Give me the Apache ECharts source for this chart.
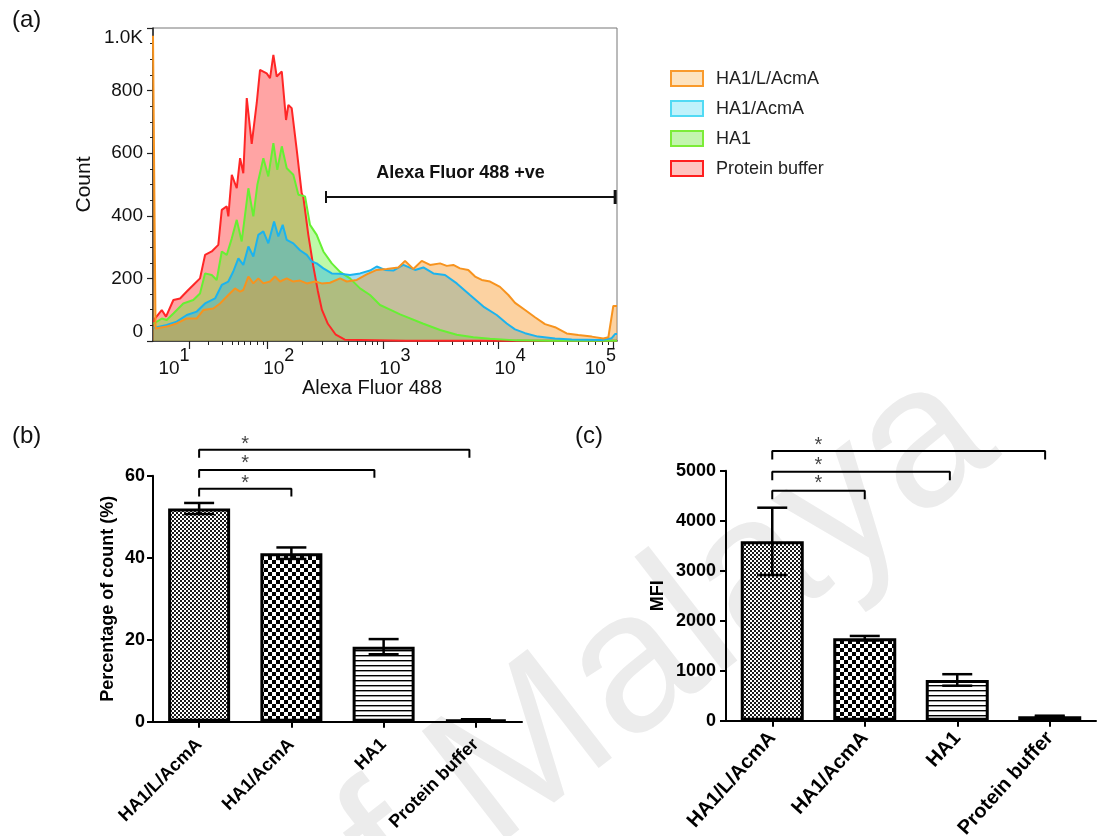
<!DOCTYPE html>
<html>
<head>
<meta charset="utf-8">
<title>HA1 binding - flow cytometry</title>
<script src="https://cdn.jsdelivr.net/npm/echarts@6.0.0/dist/echarts.min.js"></script>
<style>
  html, body { margin: 0; padding: 0; background: #fff; }
  #main { width: 1100px; height: 836px; }
</style>
</head>
<body>
<div id="main"></div>
<script>
var FONT = '"Liberation Sans", Arial, Helvetica, sans-serif';

// groups (legend order, bar order)
var groups = ['HA1/L/AcmA', 'HA1/AcmA', 'HA1', 'Protein buffer'];

// (a) histogram: x = display position in decades (10^x, logicle-compressed low end), y = count
var histHA1LAcmA = [[1.004,975],[1.016,975],[1.026,40],[1.039,40],[1.123,46],[1.210,56],[1.297,72],[1.384,72],[1.441,99],[1.528,104],[1.586,120],[1.658,147],[1.716,168],[1.760,158],[1.788,163],[1.832,206],[1.875,184],[1.918,200],[1.962,184],[2.020,190],[2.063,206],[2.107,190],[2.165,200],[2.222,190],[2.280,193],[2.339,184],[2.411,190],[2.469,184],[2.541,186],[2.628,200],[2.686,190],[2.773,195],[2.859,213],[2.946,227],[3.033,230],[3.134,235],[3.192,256],[3.264,230],[3.337,256],[3.409,243],[3.496,248],[3.554,240],[3.611,243],[3.669,232],[3.741,227],[3.800,206],[3.858,195],[3.930,190],[4.016,173],[4.089,147],[4.147,122],[4.234,99],[4.320,76],[4.407,54],[4.494,44],[4.595,24],[4.696,19],[4.813,14],[4.913,8],[4.957,12],[5.000,112],[5.032,112]];
var histHA1AcmA = [[1.010,42],[1.022,46],[1.123,51],[1.210,62],[1.297,83],[1.384,94],[1.456,120],[1.543,136],[1.601,179],[1.658,190],[1.701,222],[1.745,264],[1.788,243],[1.832,302],[1.875,270],[1.918,339],[1.962,350],[2.005,312],[2.055,382],[2.092,334],[2.130,371],[2.165,323],[2.222,312],[2.280,290],[2.339,275],[2.382,254],[2.425,248],[2.483,232],[2.556,216],[2.628,215],[2.714,211],[2.801,216],[2.888,225],[2.946,238],[3.018,227],[3.090,225],[3.177,243],[3.279,227],[3.351,235],[3.438,216],[3.539,211],[3.641,184],[3.756,147],[3.872,110],[3.988,83],[4.075,56],[4.147,37],[4.234,25],[4.346,14],[4.494,8],[4.639,5],[4.899,3],[4.986,9],[5.015,22],[5.032,22]];
var histHA1 = [[1.010,55],[1.022,61],[1.080,72],[1.123,67],[1.181,88],[1.267,120],[1.354,131],[1.412,152],[1.456,216],[1.514,211],[1.557,195],[1.601,286],[1.644,275],[1.688,328],[1.731,387],[1.774,318],[1.832,488],[1.875,398],[1.910,499],[1.962,584],[2.005,526],[2.049,632],[2.083,547],[2.122,622],[2.165,552],[2.222,531],[2.266,467],[2.324,462],[2.367,371],[2.425,339],[2.483,286],[2.556,248],[2.628,221],[2.714,200],[2.801,168],[2.888,147],[2.975,115],[3.062,100],[3.149,85],[3.351,55],[3.496,35],[3.641,20],[3.785,12],[3.930,7],[4.161,2],[4.451,1],[5.032,1]];
var histBuffer = [[1.010,60],[1.022,72],[1.080,99],[1.117,78],[1.181,131],[1.239,136],[1.297,158],[1.354,179],[1.412,200],[1.456,275],[1.514,286],[1.571,307],[1.601,419],[1.644,430],[1.658,398],[1.688,531],[1.731,488],[1.760,584],[1.788,536],[1.818,776],[1.861,630],[1.905,762],[1.933,866],[1.991,855],[2.020,840],[2.049,914],[2.078,845],[2.122,861],[2.159,706],[2.179,754],[2.208,744],[2.252,610],[2.295,472],[2.309,460],[2.352,340],[2.395,240],[2.435,160],[2.470,100],[2.522,55],[2.591,20],[2.669,4],[3.200,1],[5.032,1]];

// (a) axis ticks
var majorTickAt = [1.317, 2, 3, 4, 5];
var majorTickExp = ['1', '2', '3', '4', '5'];
var lowDecadeTickAt = [1.484, 1.601, 1.688, 1.745, 1.797, 1.846, 1.905, 1.962];

// (a) positive gate
var gateRange = [2.506, 5.016];
var gateCount = 460;

// (b) percentage of count, mean and SEM
var pctMean = [52.0, 41.1, 18.3, 0.5];
var pctSem = [1.35, 1.4, 1.85, 0.1];
// (c) MFI, mean and SEM
var mfiMean = [3587, 1650, 815, 90];
var mfiSem = [673, 45, 115, 10];

// significance brackets (category index from -> to, bracket height)
var sigFrom = [0, 0, 0];
var pctSigTo = [1, 1.9, 2.93];
var pctSigTop = [56.8, 61.4, 66.3];
var pctStarY = [58.1, 62.9, 67.5];
var mfiSigTo = [1, 1.92, 2.95];
var mfiSigTop = [4600, 4980, 5394];
var mfiStarY = [4735, 5100, 5500];

var lineColors = ['#f7931e', '#1cb3ee', '#66f033', '#ff2626'];
var legendFill = ['#fde3bf', '#c0f2fb', '#c3f5ae', '#ffc4c0'];
var legendEdge = ['#f99a2c', '#52daf4', '#7cec38', '#ff1f1f'];

function makePattern(kind) {
  var c = document.createElement('canvas');
  var g = c.getContext('2d');
  if (kind === 'fine') {
    c.width = 4; c.height = 4;
    g.fillStyle = '#fff'; g.fillRect(0, 0, 4, 4);
    g.fillStyle = '#1a1a1a'; g.fillRect(0, 0, 2, 2); g.fillRect(2, 2, 2, 2);
  } else if (kind === 'check') {
    c.width = 8; c.height = 8;
    g.fillStyle = '#fff'; g.fillRect(0, 0, 8, 8);
    g.fillStyle = '#000'; g.fillRect(0, 0, 4, 4); g.fillRect(4, 4, 4, 4);
  } else if (kind === 'stripe') {
    c.width = 4; c.height = 5;
    g.fillStyle = '#fff'; g.fillRect(0, 0, 4, 5);
    g.fillStyle = '#000'; g.fillRect(0, 0, 4, 1.4);
  } else {
    c.width = 6; c.height = 3;
    g.fillStyle = '#fff'; g.fillRect(0, 0, 6, 3);
    g.fillStyle = '#000'; g.fillRect(0, 1, 3, 1);
  }
  return { image: c, repeat: 'repeat' };
}
var barPatterns = [makePattern('fine'), makePattern('check'), makePattern('stripe'), makePattern('dash')];

// minor ticks on the fluorescence axis
var minorTickAt = lowDecadeTickAt.slice();
[2, 3, 4].forEach(function (d) {
  for (var k = 2; k <= 9; k++) minorTickAt.push(d + Math.log10(k));
});

// label nudges (px) for 10^n labels, as in the FlowJo export
var xLabelShift = [-15, 11, 12, 12, -13];
var tickRich = {};
majorTickAt.forEach(function (v, i) {
  var s = xLabelShift[i];
  tickRich['b' + i] = { fontSize: 19, color: '#111', fontFamily: FONT, padding: [0, 0, 0, s > 0 ? 2 * s : 0] };
  tickRich['s' + i] = { fontSize: 18, color: '#111', fontFamily: FONT, padding: [0, s < 0 ? -2 * s : 0, 26, 0] };
});

function histSeries(name, data, i) {
  return {
    name: name, type: 'line', xAxisIndex: 0, yAxisIndex: 0,
    data: data, showSymbol: false, symbol: 'none', smooth: false, silent: true,
    lineStyle: { color: lineColors[i], width: 2 },
    itemStyle: { color: lineColors[i] },
    areaStyle: { color: lineColors[i], opacity: 0.42 }
  };
}

function barSeries(xi, yi, mean, w) {
  return {
    type: 'bar', xAxisIndex: xi, yAxisIndex: yi, barWidth: w, silent: true, z: 3,
    data: mean.map(function (v, i) { return { value: v, itemStyle: { color: barPatterns[i] } }; }),
    itemStyle: { borderColor: '#000', borderWidth: 3 }
  };
}

function errorSeries(xi, yi, mean, sem) {
  return {
    type: 'custom', xAxisIndex: xi, yAxisIndex: yi, z: 5, silent: true,
    encode: { x: 0, y: [1, 2] },
    data: mean.map(function (m, i) { return [i, m - sem[i], m + sem[i]]; }),
    renderItem: function (params, api) {
      var hi = api.coord([api.value(0), api.value(2)]);
      var lo = api.coord([api.value(0), api.value(1)]);
      var st = { stroke: '#000', lineWidth: 2.5 };
      return { type: 'group', children: [
        { type: 'line', shape: { x1: hi[0], y1: hi[1], x2: lo[0], y2: lo[1] }, style: st },
        { type: 'line', shape: { x1: hi[0] - 15, y1: hi[1], x2: hi[0] + 15, y2: hi[1] }, style: st },
        { type: 'line', shape: { x1: lo[0] - 15, y1: lo[1], x2: lo[0] + 15, y2: lo[1] }, style: st }
      ] };
    }
  };
}

function bracketSeries(xi, yi, to, top, drop, starY) {
  var out = sigFrom.map(function (f, i) {
    return {
      type: 'line', xAxisIndex: xi, yAxisIndex: yi, clip: false, symbol: 'none', silent: true,
      lineStyle: { color: '#000', width: 2 },
      data: [[f, top[i] - drop], [f, top[i]], [to[i], top[i]], [to[i], top[i] - drop]]
    };
  });
  out.push({
    type: 'scatter', xAxisIndex: xi, yAxisIndex: yi, clip: false, symbolSize: 1, silent: true,
    itemStyle: { color: 'rgba(0,0,0,0)' },
    data: starY.map(function (y) { return [0.5, y]; }),
    label: { show: true, position: 'inside', formatter: '*', fontSize: 20, color: '#111', fontFamily: FONT }
  });
  return out;
}

var boldAxisY = function (gi, max, step, name, gap, margin) {
  return {
    gridIndex: gi, type: 'value', min: 0, max: max, interval: step,
    axisLine: { show: true, onZero: false, lineStyle: { color: '#000', width: 2 } },
    axisTick: { show: true, length: 6, lineStyle: { color: '#000', width: 2 } },
    axisLabel: { fontSize: 18, fontWeight: 'bold', color: '#000', fontFamily: FONT, margin: margin,
      formatter: function (v) { return String(v); } },
    splitLine: { show: false },
    name: name, nameLocation: 'middle', nameGap: gap, nameMoveOverlap: false,
    nameTextStyle: { fontSize: 18, fontWeight: 'bold', color: '#000', fontFamily: FONT }
  };
};
var catAxisX = function (gi, margin, size, rot) {
  return {
    gridIndex: gi, type: 'category', data: groups,
    axisLine: { show: true, onZero: false, lineStyle: { color: '#000', width: 2 } },
    axisTick: { show: true, alignWithLabel: true, length: 6, lineStyle: { color: '#000', width: 2 } },
    axisLabel: { interval: 0, rotate: rot, fontSize: size, fontWeight: 'bold', color: '#000', fontFamily: FONT,
      margin: margin, padding: [31, 0, 0, 0] },
    splitLine: { show: false }
  };
};
var hiddenX = function (gi) {
  return { gridIndex: gi, type: 'value', min: -0.5, max: 3.5, show: false,
    axisLine: { onZero: false } };
};

var graphics = [
  { type: 'text', z: 0, x: 1030, y: 490, rotation: 0.66,
    style: { text: 'University of Malaya', font: '200px ' + FONT, fill: '#ececec', align: 'right', verticalAlign: 'bottom' } },
  { type: 'text', x: 12, y: 8, style: { text: '(a)', font: '24px ' + FONT, fill: '#111' } },
  { type: 'text', x: 12, y: 424, style: { text: '(b)', font: '24px ' + FONT, fill: '#111' } },
  { type: 'text', x: 575, y: 424, style: { text: '(c)', font: '24px ' + FONT, fill: '#111' } }
];
groups.forEach(function (g, i) {
  graphics.push({ type: 'rect', shape: { x: 671, y: 71 + 30 * i, width: 32, height: 15 },
    style: { fill: legendFill[i], stroke: legendEdge[i], lineWidth: 2 } });
  graphics.push({ type: 'text', x: 716, y: 79 + 30 * i,
    style: { text: g, font: '18px ' + FONT, fill: '#222', align: 'left', verticalAlign: 'middle' } });
});

var option = {
  backgroundColor: '#fff',
  animation: false,
  textStyle: { fontFamily: FONT },
  graphic: graphics,
  grid: [
    { left: 153, top: 28, width: 464, height: 313, show: true, borderColor: '#777', borderWidth: 1, containLabel: false, outerBoundsMode: 'none' },
    { left: 153, top: 475.7, width: 369, height: 246, containLabel: false, outerBoundsMode: 'none' },
    { left: 726, top: 470.7, width: 370, height: 250, containLabel: false, outerBoundsMode: 'none' }
  ],
  xAxis: [
    { gridIndex: 0, type: 'value', min: 1.004, max: 5.032, position: 'bottom',
      axisLine: { show: true, onZero: false, lineStyle: { color: '#222', width: 1.5 } },
      axisTick: { show: true, customValues: minorTickAt, length: 4, lineStyle: { color: '#222', width: 1 } },
      axisLabel: { show: false }, splitLine: { show: false } },
    { gridIndex: 0, type: 'value', min: 1.004, max: 5.032, position: 'bottom',
      axisLine: { show: false, onZero: false },
      axisTick: { show: true, customValues: majorTickAt, length: 8, lineStyle: { color: '#222', width: 1.2 } },
      axisLabel: { show: true, customValues: majorTickAt, margin: 6, rich: tickRich,
        formatter: function (v) {
          var i = 0;
          majorTickAt.forEach(function (t, j) { if (Math.abs(t - v) < 1e-6) i = j; });
          return '{b' + i + '|10}{s' + i + '|' + majorTickExp[i] + '}';
        } },
      splitLine: { show: false },
      name: 'Alexa Fluor 488', nameLocation: 'middle', nameGap: 37, nameMoveOverlap: false,
      nameTextStyle: { fontSize: 20, color: '#111', fontFamily: FONT, padding: [0, 26, 0, 0] } },
    catAxisX(1, 20, 18, 45),
    hiddenX(1),
    catAxisX(2, 14, 20, 48),
    hiddenX(2)
  ],
  yAxis: [
    { gridIndex: 0, type: 'value', min: 0, max: 1000, interval: 200,
      axisLine: { show: true, onZero: false, lineStyle: { color: '#222', width: 1.5 } },
      axisTick: { show: true, length: 6, lineStyle: { color: '#222', width: 1.2 } },
      minorTick: { show: true, splitNumber: 4, length: 3, lineStyle: { color: '#222', width: 1 } },
      axisLabel: { fontSize: 19, color: '#111', fontFamily: FONT, margin: 10,
        showMinLabel: true, showMaxLabel: true,
        verticalAlignMaxLabel: 'top', verticalAlignMinLabel: 'bottom',
        formatter: function (v) { return v === 1000 ? '1.0K' : String(v); } },
      splitLine: { show: false }, minorSplitLine: { show: false },
      name: 'Count', nameLocation: 'middle', nameGap: 58, nameMoveOverlap: false,
      nameTextStyle: { fontSize: 21, color: '#111', fontFamily: FONT } },
    boldAxisY(1, 60, 20, 'Percentage of count (%)', 36, 8),
    boldAxisY(2, 5000, 1000, 'MFI', 59, 10)
  ],
  series: [
    histSeries(groups[3], histBuffer, 3),
    histSeries(groups[2], histHA1, 2),
    histSeries(groups[1], histHA1AcmA, 1),
    histSeries(groups[0], histHA1LAcmA, 0),
    {
      type: 'custom', xAxisIndex: 0, yAxisIndex: 0, z: 10, silent: true,
      encode: { x: [0, 1], y: 2 },
      data: [[gateRange[0], gateRange[1], gateCount]],
      renderItem: function (params, api) {
        var a = api.coord([api.value(0), api.value(2)]);
        var b = api.coord([api.value(1), api.value(2)]);
        var st = { stroke: '#111', lineWidth: 2 };
        return { type: 'group', children: [
          { type: 'line', shape: { x1: a[0], y1: a[1], x2: b[0], y2: b[1] }, style: st },
          { type: 'line', shape: { x1: a[0], y1: a[1] - 6, x2: a[0], y2: a[1] + 6 }, style: st },
          { type: 'line', shape: { x1: b[0], y1: b[1] - 7, x2: b[0], y2: b[1] + 7 }, style: { stroke: '#111', lineWidth: 3 } },
          { type: 'text', x: (a[0] + b[0]) / 2 - 10, y: a[1] - 24,
            style: { text: 'Alexa Fluor 488 +ve', font: 'bold 18px ' + FONT, fill: '#111', align: 'center', verticalAlign: 'middle' } }
        ] };
      }
    },
    barSeries(2, 1, pctMean, 62),
    errorSeries(2, 1, pctMean, pctSem),
    barSeries(4, 2, mfiMean, 63),
    errorSeries(4, 2, mfiMean, mfiSem)
  ].concat(bracketSeries(3, 1, pctSigTo, pctSigTop, 1.9, pctStarY))
   .concat(bracketSeries(5, 2, mfiSigTo, mfiSigTop, 170, mfiStarY))
};

var chart = echarts.init(document.getElementById('main'));
chart.setOption(option);
</script>
</body>
</html>
